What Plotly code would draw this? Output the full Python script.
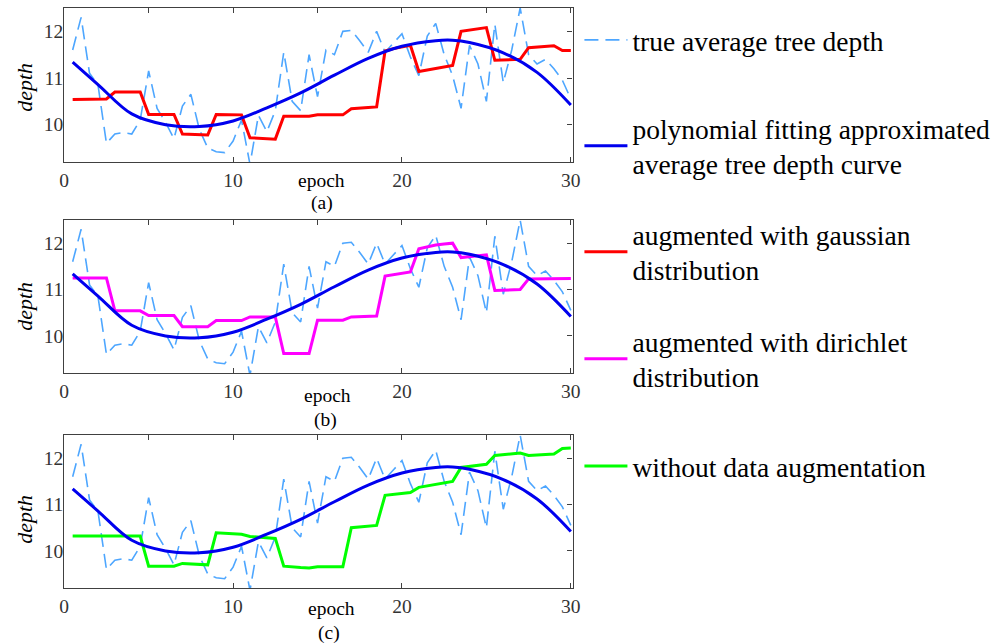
import plotly.graph_objects as go

# ---------------- data ----------------
epochs = [0.5, 1.0, 1.5, 2.0, 2.5, 3.0, 3.5, 4.0, 4.5, 5.0,
          5.5, 6.0, 6.5, 7.0, 7.5, 8.0, 8.5, 9.0, 9.5, 10.0,
          10.5, 11.0, 11.5, 12.0, 12.5, 13.0, 13.5, 14.0, 14.5, 15.0,
          15.5, 16.0, 16.5, 17.0, 17.5, 18.0, 18.5, 19.0, 19.5, 20.0,
          20.5, 21.0, 21.5, 22.0, 22.5, 23.0, 23.5, 24.0, 24.5, 25.0,
          25.5, 26.0, 26.5, 27.0, 27.5, 28.0, 28.5, 29.0, 29.5, 30.0]

true_depth = [11.60, 12.30, 11.10, 10.85, 9.60, 9.80, 9.83, 9.80, 10.10, 11.15,
              10.35, 10.05, 9.70, 10.40, 10.65, 9.90, 9.50, 9.42, 9.40, 9.65,
              10.10, 9.15, 10.20, 9.85, 10.30, 11.55, 10.50, 10.30, 11.50, 10.60,
              11.60, 11.50, 12.00, 12.02, 11.80, 11.55, 12.00, 11.55, 11.75, 11.95,
              11.45, 11.05, 11.90, 12.17, 11.50, 11.05, 10.35, 11.70, 11.30, 10.50,
              12.15, 10.90, 11.60, 12.50, 11.50, 11.30, 11.40, 11.20, 10.95, 10.55]

poly_epochs = [0.5, 2, 4, 6, 8, 10, 12, 14, 16, 18, 20, 22, 23, 24, 26, 28, 30]
poly_depth = [11.34, 10.86, 10.23, 10.00, 9.96, 10.08, 10.36, 10.68, 11.06,
              11.42, 11.68, 11.80, 11.81, 11.76, 11.54, 11.12, 10.42]

gauss_depth = [10.54, 10.54, 10.54, 10.54, 10.55, 10.70, 10.70, 10.70, 10.70, 10.22,
               10.22, 10.22, 10.22, 9.80, 9.79, 9.78, 9.78, 10.22, 10.22, 10.21,
               10.21, 9.72, 9.71, 9.70, 9.69, 10.18, 10.18, 10.18, 10.18, 10.21,
               10.21, 10.21, 10.21, 10.34, 10.36, 10.37, 10.38, 11.58, 11.63, 11.66,
               11.70, 11.14, 11.17, 11.20, 11.24, 11.27, 12.00, 12.03, 12.05, 12.08,
               11.38, 11.39, 11.39, 11.40, 11.65, 11.66, 11.67, 11.69, 11.59, 11.59]

dirichlet_depth = [11.25, 11.25, 11.25, 11.25, 11.25, 10.54, 10.54, 10.54, 10.54, 10.44,
                   10.44, 10.44, 10.44, 10.20, 10.20, 10.20, 10.20, 10.33, 10.33, 10.33,
                   10.33, 10.41, 10.41, 10.41, 10.41, 9.62, 9.62, 9.62, 9.62, 10.34,
                   10.34, 10.34, 10.34, 10.41, 10.42, 10.42, 10.43, 11.29, 11.32, 11.35,
                   11.38, 11.88, 11.92, 11.96, 11.98, 12.00, 11.69, 11.71, 11.73, 11.75,
                   10.98, 10.99, 10.99, 11.00, 11.23, 11.23, 11.24, 11.24, 11.24, 11.24]

no_aug_depth = [10.32, 10.32, 10.32, 10.32, 10.32, 10.32, 10.32, 10.32, 10.32, 9.67,
                9.67, 9.67, 9.67, 9.73, 9.72, 9.71, 9.70, 10.39, 10.38, 10.37,
                10.36, 10.31, 10.30, 10.28, 10.27, 9.67, 9.65, 9.64, 9.63, 9.66,
                9.66, 9.66, 9.66, 10.50, 10.52, 10.53, 10.55, 11.20, 11.22, 11.24,
                11.26, 11.37, 11.40, 11.44, 11.47, 11.50, 11.80, 11.82, 11.85, 11.87,
                12.06, 12.08, 12.09, 12.11, 12.06, 12.07, 12.08, 12.09, 12.21, 12.22]

x_tick_vals = [0, 10, 20, 30]
x_tick_text = ["0", "10", "20", "30"]
y_tick_vals = [10, 11, 12]
y_tick_text = ["10", "11", "12"]

names = ["true average tree depth",
         "polynomial fitting approximated<br>average tree depth curve",
         "augmented with gaussian<br>distribution",
         "augmented with dirichlet<br>distribution",
         "without data augmentation"]
panel_labels = ["(a)", "(b)", "(c)"]

# ---------------- layout geometry (pixels) ----------------
W, H = 999, 643
X0, X1 = 60, 575
panels_px = [(8, 162), (220, 373), (435, 588)]
epoch_lbl_px = [(321, 180), (327, 395), (331, 608)]
panel_lbl_px = [(321, 203), (325, 420), (328, 633)]
depth_lbl_px = [(19, 87), (19, 306), (19, 519)]
legend_y_px = [40, 146, 252, 359, 466]

SERIF = "Liberation Serif, Times New Roman, serif"
AXC = "#404040"
TRUE_C = "#4da6ff"
POLY_C = "#0000ee"
aug_series = [gauss_depth, dirichlet_depth, no_aug_depth]
aug_colors = ["#ff0000", "#ff00ff", "#00ff00"]
aug_legend = ["legend3", "legend4", "legend5"]

fig = go.Figure()

def px2paper_x(px):
    return px / W

def px2paper_y(py):
    return 1 - py / H

layout = dict(width=W, height=H, autosize=False,
              margin=dict(l=0, r=0, t=0, b=0),
              paper_bgcolor="white", plot_bgcolor="white",
              font=dict(family=SERIF, color="#000"),
              annotations=[])

for i in range(3):
    xs = "" if i == 0 else str(i + 1)
    xo = str(i + 4)
    xa, ya = "x" + xs, "y" + xs
    xao, yao = "x" + xo, "y" + xo
    top, bot = panels_px[i]
    ydom = [px2paper_y(bot), px2paper_y(top)]
    xdom = [px2paper_x(X0), px2paper_x(X1)]

    fig.add_trace(go.Scatter(x=epochs, y=true_depth, mode="lines",
                             line=dict(color=TRUE_C, width=1.6, dash="14px,7px"),
                             name=names[0], legend="legend",
                             showlegend=(i == 0), xaxis=xa, yaxis=ya,
                             hoverinfo="skip"))
    fig.add_trace(go.Scatter(x=epochs, y=aug_series[i], mode="lines",
                             line=dict(color=aug_colors[i], width=3),
                             name=names[2 + i], legend=aug_legend[i],
                             showlegend=True, xaxis=xa, yaxis=ya))
    fig.add_trace(go.Scatter(x=poly_epochs, y=poly_depth, mode="lines",
                             line=dict(color=POLY_C, width=3, shape="spline", smoothing=1.0),
                             name=names[1], legend="legend2",
                             showlegend=(i == 0), xaxis=xa, yaxis=ya))
    # helper traces so the mirrored top / right axes are drawn
    fig.add_trace(go.Scatter(x=[None], y=[None], xaxis=xao, yaxis=ya,
                             showlegend=False, hoverinfo="skip"))
    fig.add_trace(go.Scatter(x=[None], y=[None], xaxis=xa, yaxis=yao,
                             showlegend=False, hoverinfo="skip"))

    xkey = "xaxis" + xs
    ykey = "yaxis" + xs
    layout[xkey] = dict(domain=xdom, anchor=ya, range=[0, 30.1],
                        tickvals=x_tick_vals, ticktext=x_tick_text,
                        ticks="inside", ticklen=5, tickcolor=AXC,
                        showline=True, linecolor=AXC, linewidth=1.2,
                        showgrid=False, zeroline=False,
                        tickfont=dict(family=SERIF, size=19.5, color="#333"))
    layout[ykey] = dict(domain=ydom, anchor=xa, range=[9.2, 12.5],
                        tickvals=y_tick_vals, ticktext=y_tick_text,
                        ticks="", showline=True, linecolor=AXC, linewidth=1.2,
                        showgrid=False, zeroline=False, ticklabelstandoff=-4,
                        tickfont=dict(family=SERIF, size=19.5, color="#333"))
    layout["xaxis" + xo] = dict(overlaying=xa, anchor=ya, side="top",
                                range=[0, 30.1], dtick=5, tick0=0,
                                ticks="inside", ticklen=5, tickcolor=AXC,
                                showticklabels=False, showline=True,
                                linecolor=AXC, linewidth=1.2,
                                showgrid=False, zeroline=False)
    layout["yaxis" + xo] = dict(overlaying=ya, anchor=xa, side="right",
                                range=[9.2, 12.5], tickvals=y_tick_vals,
                                ticks="inside", ticklen=5, tickcolor=AXC,
                                showticklabels=False, showline=True,
                                linecolor=AXC, linewidth=1.2,
                                showgrid=False, zeroline=False)

    ex, ey = epoch_lbl_px[i]
    layout["annotations"].append(dict(text="epoch", x=px2paper_x(ex), y=px2paper_y(ey),
                                      xref="paper", yref="paper", showarrow=False,
                                      xanchor="center", yanchor="middle",
                                      font=dict(family=SERIF, size=19.5, color="#000")))
    lx, ly = panel_lbl_px[i]
    layout["annotations"].append(dict(text=panel_labels[i], x=px2paper_x(lx), y=px2paper_y(ly),
                                      xref="paper", yref="paper", showarrow=False,
                                      xanchor="center", yanchor="middle",
                                      font=dict(family=SERIF, size=19.5, color="#000")))
    dx, dy = depth_lbl_px[i]
    layout["annotations"].append(dict(text="<i>depth</i>", x=px2paper_x(dx), y=px2paper_y(dy),
                                      xref="paper", yref="paper", showarrow=False,
                                      textangle=-90, xanchor="center", yanchor="middle",
                                      font=dict(family=SERIF, size=22, color="#000")))

legend_keys = ["legend", "legend2", "legend3", "legend4", "legend5"]
for k, cy in zip(legend_keys, legend_y_px):
    layout[k] = dict(x=px2paper_x(582), y=px2paper_y(cy), xanchor="left", yanchor="middle",
                     bgcolor="rgba(0,0,0,0)", borderwidth=0, itemwidth=43,
                     font=dict(family=SERIF, size=27.5, color="#000"),
                     valign="middle", itemclick=False, itemdoubleclick=False)

fig.update_layout(**layout)
fig.write_html("out.html")
